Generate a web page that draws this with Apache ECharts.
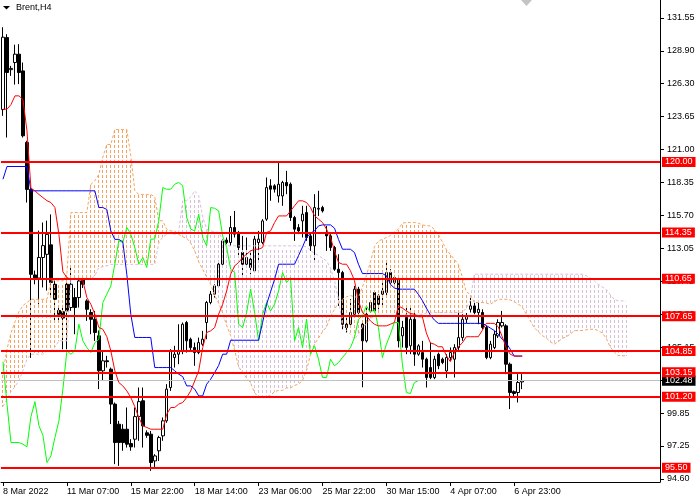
<!DOCTYPE html>
<html><head><meta charset="utf-8">
<script src="https://cdn.jsdelivr.net/npm/echarts@6/dist/echarts.min.js"></script>
<style>html,body{margin:0;padding:0;background:#fff}#c{width:700px;height:500px}</style>
</head><body><div id="c"></div>
<script>
// ---- data ----
const symbolTitle = 'Brent,H4';
const slotCount = 165; // bars + forward cloud space
const categories = Array.from({length: slotCount}, (_, i) => 'b' + i);
const xTickIndex = [0, 16, 32, 48, 64, 80, 96, 112, 128];
const xTickLabels = ['8 Mar 2022', '11 Mar 07:00', '15 Mar 22:00', '18 Mar 14:00', '23 Mar 06:00', '25 Mar 22:00', '30 Mar 15:00', '4 Apr 07:00', '6 Apr 23:00'];
const yTickValues = [131.55, 128.90, 126.30, 123.65, 121.00, 118.35, 115.70, 113.05, 110.45, 107.80, 105.15, 102.50, 99.85, 97.25, 94.60];
const levels = [120.00, 114.35, 110.65, 107.65, 104.85, 103.15, 101.20, 95.50];
const lastPrice = 102.48;

// [open, close, low, high]
const candles = [
[124.2,130.0,123.7,130.8],[129.97,127.17,121.96,130.24],[127.4,127.5,126.9,127.7],[127.97,128.64,126.2,129.4],[128.64,127.17,126.24,129.44],
[127.3,122.1,121.96,127.97],[121.56,117.8,116.75,121.7],[117.8,111.0,104.3,117.95],[110.95,110.7,110.2,111.3],[110.7,112.35,108.6,114.5],
[112.35,113.3,109.95,115.15],[112.6,114.2,109.7,115.3],[113.36,110.35,109.1,115.8],[110.2,109.0,107.1,110.5],[108.1,107.8,107.1,108.4],
[108.0,107.5,105.0,108.3],[110.2,108.07,105.0,110.5],[108.34,110.2,108.07,111.7],[109.14,108.34,106.2,109.9],[109.14,110.47,108.34,110.74],
[110.6,110.2,109.9,110.9],[108.87,108.2,107.27,109.0],[107.94,107.4,106.2,108.2],[107.4,106.34,105.67,108.07],[106.07,103.27,101.8,106.5],
[103.27,104.07,102.46,104.87],[104.07,104.0,103.53,104.47],[103.4,100.6,99.0,103.53],[100.6,97.52,95.79,100.73],[98.99,97.52,95.65,99.26],
[98.59,97.52,96.86,98.99],[98.59,97.39,97.12,100.33],[97.44,97.18,96.86,97.79],[97.79,99.6,97.12,100.33],[99.6,100.8,97.66,101.93],
[100.87,98.86,97.12,101.93],[98.3,98.1,97.9,98.5],[98.19,95.92,95.25,98.45],[96.05,96.45,95.52,96.59],[96.86,97.92,96.05,98.06],
[98.06,99.26,97.66,99.53],[99.26,101.8,99.1,102.2],[101.93,104.87,101.66,105.0],[104.33,104.6,103.53,105.27],[104.6,104.87,103.8,107.0],
[104.87,107.0,104.6,107.14],[107.14,105.67,104.73,107.27],[105.8,105.13,104.87,105.93],[105.13,104.73,103.67,105.53],[104.73,105.53,104.6,105.93],
[105.4,105.8,105.27,106.47],[107.14,108.74,105.8,108.87],[108.74,109.41,108.6,109.67],[109.41,110.07,109.14,110.2],[110.07,111.81,109.94,112.08],
[111.81,113.68,111.68,113.82],[113.74,113.55,113.41,113.95],[113.55,114.75,113.28,115.68],[114.75,114.22,113.95,116.08],[114.35,113.15,112.5,114.48],
[112.75,111.81,110.87,114.08],[111.81,112.35,111.68,113.95],[112.21,111.55,111.01,112.88],[111.28,113.82,111.14,114.08],[113.55,113.82,112.08,114.48],
[113.55,115.28,113.41,115.42],[115.42,117.95,115.28,118.76],[118.09,117.82,116.89,118.62],[118.09,117.82,117.55,118.22],[117.28,118.22,116.75,119.96],
[117.28,118.36,116.49,118.49],[118.36,118.09,117.42,119.29],[118.22,115.55,115.28,118.36],[115.55,114.62,113.68,115.68],[114.75,114.48,114.22,115.02],
[115.28,115.82,113.95,116.49],[115.95,113.95,113.68,116.49],[114.08,113.28,112.88,114.35],[113.28,116.35,111.95,117.42],[116.22,116.29,115.68,117.69],
[116.35,116.08,115.95,116.49],[114.22,114.08,112.88,114.88],[114.08,113.15,112.88,114.22],[113.15,111.41,111.28,113.28],[111.41,111.14,108.47,112.61],
[111.14,107.0,106.6,111.28],[107.0,106.73,106.34,107.54],[107.0,107.94,106.87,109.01],[107.8,109.81,107.67,110.07],[109.81,107.94,107.8,110.0],
[107.0,105.67,101.95,107.14],[105.67,107.8,105.54,108.34],[108.07,108.74,107.94,108.87],[109.54,108.07,107.94,109.67],[109.27,108.6,108.2,109.4],
[109.41,109.67,108.34,110.34],[109.54,111.14,109.27,111.95],[111.14,110.34,110.2,111.41],[110.34,110.74,110.2,110.87],[110.61,105.67,105.14,110.74],
[106.07,106.74,105.14,107.27],[107.54,105.14,104.6,108.34],[105.27,107.4,104.6,108.34],[107.4,104.6,103.67,108.07],[104.6,105.27,104.47,105.4],
[104.73,104.2,103.53,105.67],[104.2,102.73,101.93,104.33],[103.53,102.73,102.6,105.54],[102.73,104.2,102.6,104.47],[104.6,103.67,103.4,104.73],
[104.2,103.93,103.8,104.33],[103.26,104.33,102.7,104.6],[104.33,104.73,104.07,105.14],[104.2,105.13,102.73,105.4],[105.13,105.93,104.87,108.07],
[105.93,107.4,105.67,107.8],[107.4,107.67,107.1,107.9],[108.2,108.47,107.94,109.14],[108.47,107.94,107.8,108.74],[107.94,108.2,107.0,108.87],
[107.94,106.74,106.6,108.2],[106.74,104.33,104.2,106.87],[104.33,105.4,104.2,105.67],[105.13,106.2,105.0,106.47],[106.07,107.14,105.9,107.4],
[106.87,107.14,106.74,108.07],[106.87,103.8,103.0,107.0],[103.8,101.53,100.2,103.93],[101.6,101.45,101.2,101.7],[101.53,102.33,100.73,103.0],
[102.38,102.48,101.8,103.0]
];

const tenkan = [
124.23,124.23,124.6,125.3,125.3,125.0,122.5,117.9,117.69,117.4,
117.15,116.9,116.75,116.35,114.2,111.2,110.74,110.61,110.61,110.61,
110.48,109.14,108.6,107.81,106.74,106.6,106.0,104.87,103.27,102.33,
102.06,101.66,101.13,100.4,99.53,98.86,98.73,98.59,98.59,98.59,
98.59,99.8,100.33,100.33,100.6,100.73,101.13,101.66,102.46,103.27,
105.13,106.34,106.47,106.74,107.81,108.6,109.67,111.01,111.68,111.95,
112.35,112.61,112.88,113.01,113.01,113.15,114.35,114.48,115.15,115.68,
115.68,115.68,116.08,116.49,116.89,116.89,116.75,116.35,115.68,115.42,
115.15,114.62,113.95,112.88,111.95,111.81,111.81,111.28,110.5,108.87,
107.94,107.67,107.27,107.0,106.87,106.87,106.87,107.0,107.14,108.47,
108.29,108.07,107.86,107.8,107.6,107.6,106.3,105.5,105.4,105.2,
105.2,104.5,104.0,104.7,105.2,105.5,106.0,106.0,106.0,106.0,
106.5,107.07,107.07,107.07,106.8,106.0,105.1,104.6,104.45,104.45,
104.45
];

const kijun = [
118.62,119.64,119.64,119.64,119.64,119.64,119.64,117.69,117.69,117.69,
117.69,117.69,117.69,117.69,117.69,117.69,117.69,117.69,117.69,117.69,
117.69,117.69,117.69,117.69,116.35,116.35,116.2,114.48,113.8,113.8,
113.6,111.0,107.8,105.94,105.94,105.94,105.94,105.94,103.53,103.53,
103.53,103.53,103.53,103.27,103.0,102.8,102.06,102.06,101.8,101.26,
101.26,102.2,102.6,103.13,103.7,104.6,104.6,105.72,105.72,105.72,
105.72,105.72,105.72,105.72,105.72,107.14,108.6,109.6,110.6,111.81,
111.81,111.81,111.81,111.81,112.5,113.2,113.95,114.3,114.48,114.88,
114.96,114.96,114.96,114.7,113.8,113.01,113.01,113.01,112.75,111.81,
111.06,111.06,111.06,111.06,111.06,111.06,110.88,110.2,109.9,109.81,
109.81,109.81,109.81,109.81,109.4,108.9,108.3,107.74,107.34,107.07,
107.07,107.07,107.07,107.07,107.07,107.07,107.07,107.07,107.07,107.07,
107.07,106.9,106.7,106.5,106.2,105.8,105.5,105.0,104.45,104.45,
104.45
];

const spanA = [
103.2,105.0,106.3,107.2,108.0,108.5,108.74,109.0,109.0,109.0,
109.0,109.0,110.48,110.48,110.48,110.48,111.0,115.95,115.95,115.95,
115.95,115.95,118.2,118.5,119.0,120.4,121.4,121.4,122.6,122.6,
122.6,122.6,120.5,117.7,117.4,117.4,117.4,117.4,117.2,115.3,
115.28,114.6,114.48,114.48,114.2,114.0,113.9,113.5,112.9,112.0,
111.4,110.8,110.2,109.3,108.7,107.9,106.9,106.1,104.9,103.6,
103.1,102.7,102.3,101.5,101.2,101.1,101.2,101.3,101.6,101.7,
101.7,101.9,101.9,102.1,102.2,102.5,103.3,104.6,105.4,105.9,
106.4,106.8,107.6,108.2,108.7,109.0,109.2,109.3,109.2,109.14,
110.0,110.9,112.0,113.2,113.68,113.8,113.95,114.1,114.4,114.62,
115.1,115.15,115.15,115.15,115.1,114.96,114.9,114.88,114.6,114.2,
113.6,113.0,112.6,112.2,111.8,110.8,109.6,109.4,108.74,108.74,
108.74,108.7,108.6,108.8,109.0,109.0,109.0,108.95,108.8,108.6,
108.4,107.8,107.3,106.74,106.4,106.1,105.9,105.6,105.4,105.6,
105.85,106.0,106.2,106.47,106.5,106.5,106.55,106.6,106.6,106.5,
106.3,105.9,105.2,104.8,104.5,104.47,104.47
];

const spanB = [
100.4,101.0,101.6,102.0,102.5,103.3,104.2,104.6,104.6,104.6,
104.6,104.87,104.87,105.14,105.67,105.67,105.67,110.61,110.61,110.61,
110.61,110.61,110.61,110.9,111.55,111.6,111.68,111.8,111.8,111.8,
111.8,111.8,111.8,111.8,111.8,111.8,111.8,111.8,111.8,113.5,
114.0,114.2,114.3,114.2,114.4,116.9,116.9,117.2,117.69,117.3,
115.6,114.6,114.5,114.4,114.35,113.8,113.28,113.28,113.28,113.28,
113.28,113.28,113.28,113.28,113.28,113.28,113.28,113.28,113.28,113.28,
113.28,113.28,113.28,113.28,113.28,113.28,113.2,112.9,112.7,112.5,
112.3,112.08,111.5,110.5,109.0,106.9,106.5,106.2,105.8,106.2,
106.8,107.0,107.5,107.6,107.67,107.67,107.67,107.67,107.67,107.67,
107.67,107.8,107.8,107.8,107.8,107.8,107.9,107.9,107.94,107.94,
107.94,107.94,107.94,107.94,107.94,107.94,108.3,108.9,111.01,111.01,
111.01,111.01,111.01,111.01,111.01,111.01,111.01,111.01,111.01,111.01,
111.01,111.01,111.01,111.01,111.01,111.01,111.01,111.01,111.01,111.01,
111.01,111.01,111.01,111.01,111.01,111.01,110.9,110.7,110.5,110.2,
110.0,109.8,109.4,109.0,108.87,108.87,108.87
];

// Chikou span: the close series drawn 26 bars back
const chikouShift = 26;

// ---- chart ----
const FONT = 'Liberation Sans';
const chart = echarts.init(document.getElementById('c'));
const tickMap = {};
xTickIndex.forEach((ix, k) => { tickMap[ix] = xTickLabels[k]; });
const isTick = (index) => tickMap[index] !== undefined;

const cloudData = spanA.map((a, i) => [i, a, spanB[i]]);
const chikou = candles.slice(chikouShift).map(c => c[1]);

// dotted vertical hatch between span A and span B (pixel-aligned dashes)
function hatchItem(params, api) {
  const i = api.value(0), a = api.value(1), b = api.value(2);
  const p1 = api.coord([i, a]), p2 = api.coord([i, b]);
  const x = Math.floor(p1[0]);
  const yTop = Math.round(Math.min(p1[1], p2[1]));
  const yBot = Math.round(Math.max(p1[1], p2[1]));
  const fill = a >= b ? '#f4a460' : '#d8bfd8';
  const children = [];
  for (let y = Math.ceil(yTop / 5) * 5; y < yBot; y += 5) {
    const h = Math.min(3, yBot - y);
    children.push({type: 'rect', shape: {x: x, y: y, width: 1, height: h}, style: {fill: fill}});
  }
  return {type: 'group', children: children};
}

chart.setOption({
  animation: false,
  textStyle: {fontFamily: FONT},
  grid: {left: -1, right: 40, top: 0, bottom: 18},
  xAxis: {
    type: 'category', data: categories, boundaryGap: true,
    axisLine: {lineStyle: {color: '#000', width: 1}},
    axisTick: {show: true, alignWithLabel: true, interval: (i) => isTick(i), length: 4, lineStyle: {color: '#000'}},
    axisLabel: {interval: (i) => isTick(i), formatter: (v, i) => tickMap[i] || '', align: 'left', color: '#000', fontSize: 9, margin: 5, fontFamily: FONT},
    splitLine: {show: false}
  },
  yAxis: {
    type: 'value', position: 'right', min: 94.36, max: 132.98, scale: true,
    axisLine: {show: true, lineStyle: {color: '#000', width: 1}},
    axisTick: {show: true, length: 4, customValues: yTickValues, lineStyle: {color: '#000'}},
    axisLabel: {customValues: yTickValues, formatter: (v) => v.toFixed(2), color: '#000', fontSize: 9, margin: 7, fontFamily: FONT, align: 'left'},
    splitLine: {show: false}
  },
  graphic: [
    {type: 'polygon', shape: {points: [[3, 6], [10, 6], [6.5, 9.5]]}, style: {fill: '#000'}},
    {type: 'text', left: 16, top: 3, style: {text: symbolTitle, fill: '#000', font: '9px "Liberation Sans"'}},
    {type: 'polygon', shape: {points: [[521, 0], [532, 0], [526.5, 6]]}, style: {fill: '#c4c4c4'}}
  ],
  series: [
    {
      type: 'candlestick', data: candles, barWidth: 3, z: 1,
      itemStyle: {color: '#ffffff', color0: '#000000', borderColor: '#000000', borderColor0: '#000000', borderWidth: 1},
      silent: true
    },
    {type: 'custom', data: cloudData, z: 2, silent: true, renderItem: hatchItem},
    {type: 'line', data: spanA, symbol: 'none', z: 3, silent: true, lineStyle: {color: '#f4a460', width: 1, type: [3, 2]}},
    {type: 'line', data: spanB, symbol: 'none', z: 3, silent: true, lineStyle: {color: '#d8bfd8', width: 1, type: [3, 2]}},
    {type: 'line', data: chikou, symbol: 'none', z: 4, silent: true, lineStyle: {color: '#00ff00', width: 1}},
    {type: 'line', data: kijun, symbol: 'none', z: 4, silent: true, lineStyle: {color: '#0000ff', width: 1}},
    {type: 'line', data: tenkan, symbol: 'none', z: 5, silent: true, lineStyle: {color: '#ff0000', width: 1}},
    {
      type: 'line', data: [], z: 6, silent: true,
      markLine: {
        silent: true, symbol: 'none', animation: false,
        lineStyle: {color: '#ff0000', width: 2, type: 'solid'},
        label: {show: true, position: 'end', distance: 2, formatter: (p) => p.value.toFixed(2),
          color: '#fff', backgroundColor: '#ff0000', fontSize: 9, fontFamily: FONT, padding: [1, 3, 0, 3], lineHeight: 9},
        data: [
          {yAxis: lastPrice, lineStyle: {color: '#c0c0c0', width: 1}, label: {backgroundColor: '#000'}}
        ].concat(levels.map(v => ({yAxis: v})))
      }
    }
  ]
});
</script></body></html>
